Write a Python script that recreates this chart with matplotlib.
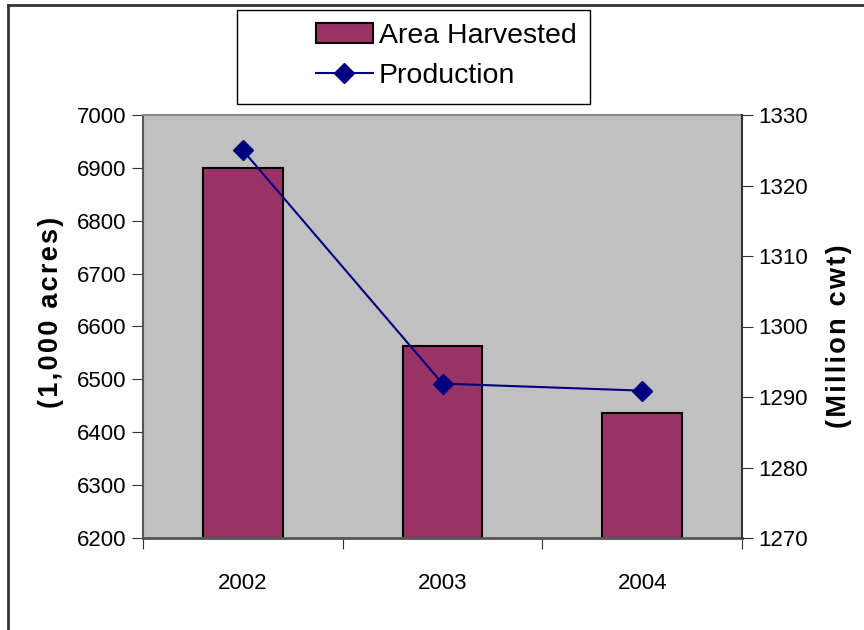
import matplotlib
matplotlib.use("Agg")
import matplotlib.pyplot as plt
from matplotlib.lines import Line2D
from matplotlib.patches import Rectangle
import numpy as np

# Data
years = ["2002", "2003", "2004"]
area_harvested = [6900, 6563, 6436]      # 1,000 acres
production = [1325.0, 1291.9, 1290.9]    # million cwt

left_ticks = list(range(6200, 7001, 100))
right_ticks = list(range(1270, 1331, 10))

family = ["Liberation Sans", "DejaVu Sans"]
plt.rcParams["font.family"] = family

HAIR = "\u200a"


def spaced(s):
    # widen letter spacing of the axis titles
    return HAIR.join(s)


fig = plt.figure(figsize=(8.64, 6.3), dpi=100)
W, H = 864, 630
ax = fig.add_axes([143 / W, 1 - 538 / H, (742 - 143) / W, (538 - 115) / H])
ax.set_facecolor("#c0c0c0")

x = np.arange(len(years))
ax.bar(x, area_harvested, width=0.4, color="#993366", edgecolor="black",
       linewidth=1.5, zorder=2)
ax.set_xlim(-0.5, len(years) - 0.5)
ax.set_ylim(6200, 7000)
ax.set_yticks(left_ticks)
ax.set_yticklabels([str(t) for t in left_ticks], fontsize=16)
ax.set_xticks(x)
ax.set_xticklabels(years, fontsize=16)
ax.tick_params(axis="x", length=0, pad=25)
# category separator ticks on the x axis
ax.set_xticks(np.arange(-0.5, len(years)), minor=True)
ax.tick_params(axis="x", which="minor", length=8, width=0.8, color="#333333")
ax.tick_params(axis="y", length=8, width=0.8, color="#333333", pad=4)

for side in ["top", "right"]:
    ax.spines[side].set_visible(False)
ax.spines["left"].set_color("#555555")
ax.spines["left"].set_linewidth(1.5)
ax.spines["bottom"].set_color("#555555")
ax.spines["bottom"].set_linewidth(2)
# plot-area border line at top
ax.plot([0, 1], [1, 1], transform=ax.transAxes, color="#888888", lw=1.5,
        clip_on=False, zorder=3)

ax2 = ax.twinx()
ax2.plot(x, production, color="#000080", lw=1.5, marker="D", markersize=10,
         zorder=4)
ax2.set_ylim(1270, 1330)
ax2.set_yticks(right_ticks)
ax2.set_yticklabels([str(t) for t in right_ticks], fontsize=16)
ax2.tick_params(axis="y", length=8, width=0.8, color="#333333", pad=4)
for side in ["top", "left", "bottom"]:
    ax2.spines[side].set_visible(False)
ax2.spines["right"].set_color("#333333")
ax2.spines["right"].set_linewidth(1.5)

# Axis titles
fig.text(51 / W, 1 - 312 / H, spaced("(1,000 acres)"), rotation=90,
         fontsize=19.5, fontweight="bold", ha="center", va="center")
fig.text(839 / W, 1 - 336 / H, spaced("(Million cwt)"), rotation=90,
         fontsize=19.5, fontweight="bold", ha="center", va="center")

# Legend box
fig.add_artist(Rectangle((237 / W, 1 - 104 / H), (590 - 237) / W, 94 / H,
                         transform=fig.transFigure, facecolor="white",
                         edgecolor="black", lw=1.0, zorder=5))
handles = [
    Rectangle((0, 0), 1, 1, facecolor="#993366", edgecolor="black", lw=1.5),
    Line2D([], [], color="#000080", lw=1.5, marker="D", markersize=10),
]
leg = fig.legend(handles, ["Area Harvested", "Production"],
                 loc="upper left", bbox_to_anchor=(316 / W, 1 - 23 / H),
                 fontsize=20.5, frameon=False, borderpad=0,
                 labelspacing=0.5, handlelength=2.0, handletextpad=0.2,
                 borderaxespad=0)
leg.set_zorder(6)

# Outer frame (top and left edges)
fig.add_artist(Line2D([8 / W, 1], [1 - 5 / H, 1 - 5 / H], color="#333333",
                      lw=2, transform=fig.transFigure))
fig.add_artist(Line2D([8 / W, 8 / W], [0, 1 - 5 / H], color="#333333",
                      lw=2, transform=fig.transFigure))

fig.savefig("out.png", dpi=100)
